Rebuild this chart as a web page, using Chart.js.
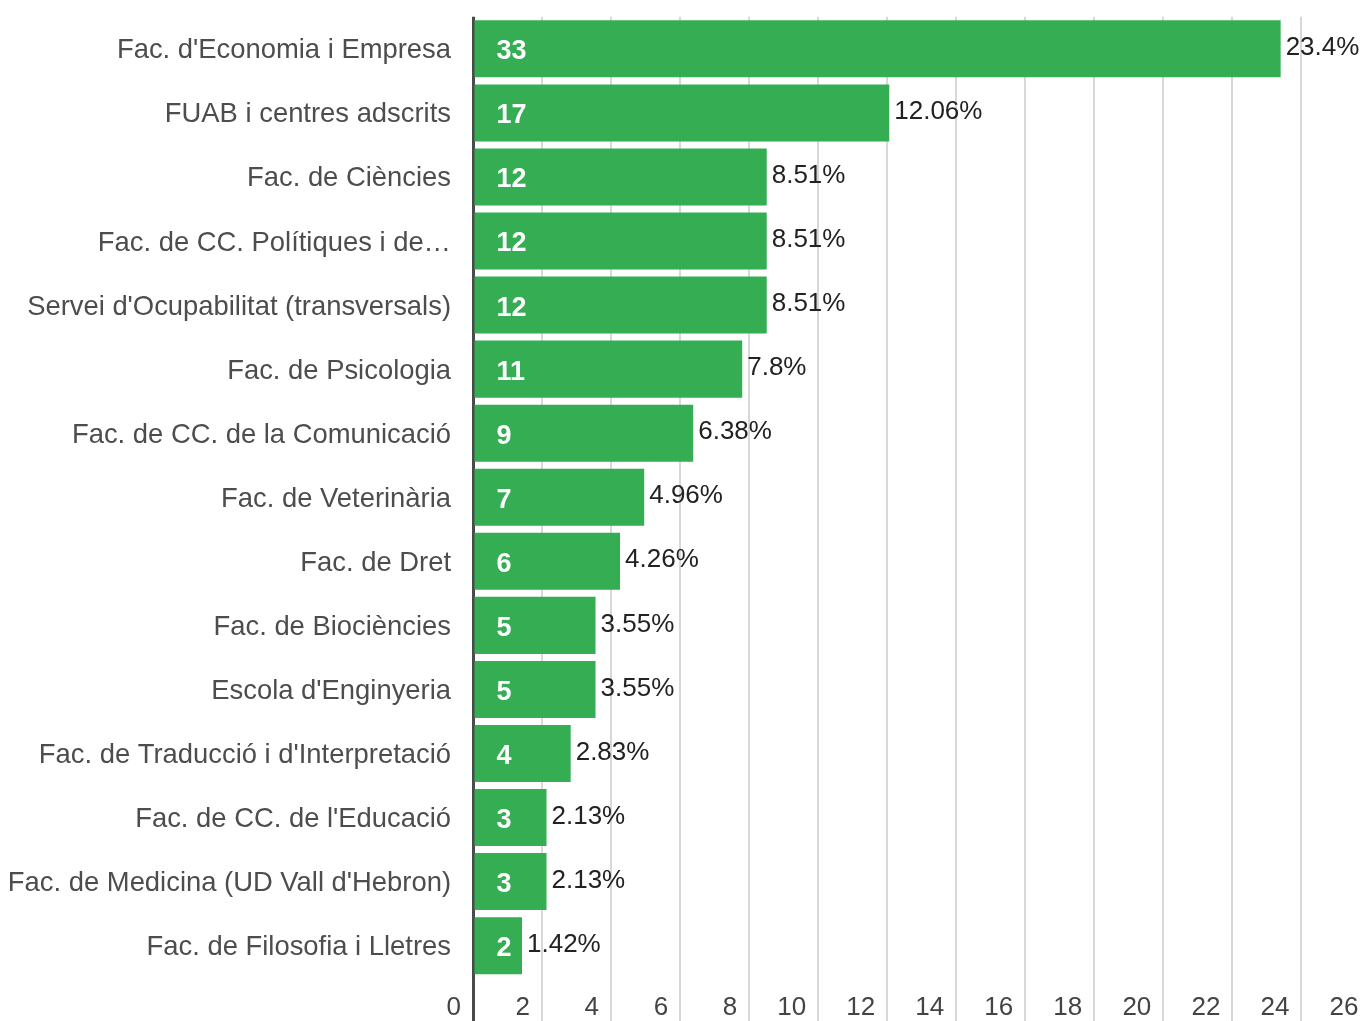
<!DOCTYPE html>
<html>
<head>
<meta charset="utf-8">
<script src="https://cdn.jsdelivr.net/npm/chart.js@4/dist/chart.umd.min.js"></script>
<style>
  html, body { margin: 0; padding: 0; background: #fff; overflow: hidden; }
  #wrap { width: 1372px; height: 1021px; }
</style>
</head>
<body>
<div id="wrap"><canvas id="chart" width="1372" height="1021"></canvas></div>
<script>
const categories = [
  "Fac. d'Economia i Empresa",
  'FUAB i centres adscrits',
  'Fac. de Ciències',
  'Fac. de CC. Polítiques i de…',
  "Servei d'Ocupabilitat (transversals)",
  'Fac. de Psicologia',
  'Fac. de CC. de la Comunicació',
  'Fac. de Veterinària',
  'Fac. de Dret',
  'Fac. de Biociències',
  "Escola d'Enginyeria",
  "Fac. de Traducció i d'Interpretació",
  "Fac. de CC. de l'Educació",
  "Fac. de Medicina (UD Vall d'Hebron)",
  'Fac. de Filosofia i Lletres'
];
const counts = [33, 17, 12, 12, 12, 11, 9, 7, 6, 5, 5, 4, 3, 3, 2];
const percents = [23.4, 12.06, 8.51, 8.51, 8.51, 7.8, 6.38, 4.96, 4.26, 3.55, 3.55, 2.83, 2.13, 2.13, 1.42];
const xMin = 0;
const xMax = 26;
const xStep = 2;

const FONT = '"Liberation Sans", Arial, sans-serif';

// count inside the bar, percentage after its end
const barLabels = {
  id: 'barLabels',
  afterDatasetsDraw(chart) {
    const ctx = chart.ctx;
    const meta = chart.getDatasetMeta(0);
    meta.data.forEach((bar, i) => {
      ctx.save();
      ctx.textBaseline = 'middle';
      ctx.textAlign = 'left';
      ctx.fillStyle = '#ffffff';
      ctx.font = 'bold 27px ' + FONT;
      ctx.fillText(String(counts[i]), bar.base + 22, bar.y + 3);
      ctx.fillStyle = '#222222';
      ctx.font = '26px ' + FONT;
      ctx.fillText(percents[i] + '%', bar.x + 5, bar.y - 1);
      ctx.restore();
    });
  }
};

new Chart(document.getElementById('chart'), {
  type: 'bar',
  data: {
    labels: categories,
    datasets: [{
      data: percents,
      backgroundColor: '#34ad53',
      borderWidth: 0,
      barPercentage: 0.89,
      categoryPercentage: 1
    }]
  },
  options: {
    indexAxis: 'y',
    responsive: false,
    animation: false,
    devicePixelRatio: 1,
    layout: { padding: { top: 16.8, right: 1.6, bottom: 0, left: 0 } },
    plugins: {
      legend: { display: false },
      tooltip: { enabled: false }
    },
    scales: {
      x: {
        min: xMin,
        max: xMax,
        border: { display: false },
        grid: {
          color: (c) => (c.tick && c.tick.value === 0 ? '#4a4a4a' : '#d8d8d8'),
          lineWidth: (c) => (c.tick && c.tick.value === 0 ? 3 : 2),
          drawTicks: true,
          tickLength: 44
        },
        ticks: {
          stepSize: xStep,
          autoSkip: false,
          maxRotation: 0,
          align: 'end',
          labelOffset: -12,
          padding: -29,
          color: '#444444',
          font: { family: FONT, size: 26 }
        },
        afterFit: (scale) => {
          scale.height = 43.3;
          scale.paddingLeft = 0;
          scale.paddingRight = 0;
        }
      },
      y: {
        border: { display: false },
        grid: { display: false, drawTicks: false },
        ticks: {
          padding: 22,
          labelOffset: 2,
          color: '#4d4d4d',
          font: { family: FONT, size: 27.4 }
        },
        afterFit: (scale) => {
          scale.width = 473;
          scale.paddingTop = 0;
          scale.paddingBottom = 0;
        }
      }
    }
  },
  plugins: [barLabels]
});
</script>
</body>
</html>
